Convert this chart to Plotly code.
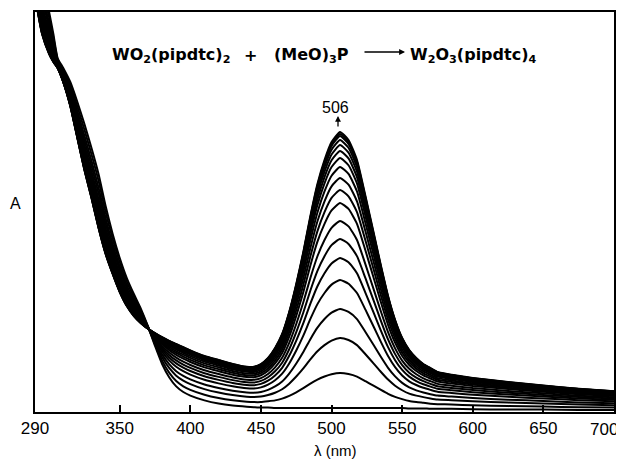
import plotly.graph_objects as go

# Wavelength grid (nm)
wavelength = [290, 295, 300, 303, 306, 310, 315, 320, 325, 330, 335, 340, 345, 350, 355,
              360, 365, 370, 375, 380, 385, 390, 395, 400, 410, 420, 430, 440, 445, 450,
              455, 460, 465, 470, 475, 480, 485, 490, 495, 500, 506, 512, 518, 524, 530,
              535, 540, 545, 550, 555, 560, 565, 570, 575, 585, 600, 625, 650, 675, 700]

# Initial spectrum: WO2(pipdtc)2 (arbitrary absorbance units)
spec_initial = [1.15, 1.08, 1.00, 0.945, 0.885, 0.86, 0.825, 0.775, 0.72, 0.66, 0.595, 0.515,
                0.445, 0.385, 0.335, 0.295, 0.258, 0.214, 0.165, 0.12, 0.087, 0.064, 0.05, 0.041,
                0.029, 0.021, 0.016, 0.013, 0.012, 0.011, 0.011, 0.010, 0.010, 0.010, 0.010,
                0.010, 0.010, 0.010, 0.010, 0.010, 0.010, 0.010, 0.010, 0.010, 0.010, 0.010,
                0.010, 0.010, 0.010, 0.009, 0.009, 0.009, 0.008, 0.008, 0.008, 0.007, 0.006,
                0.006, 0.005, 0.005]

# Final spectrum: W2O3(pipdtc)4
spec_final = [1.04, 0.945, 0.895, 0.875, 0.86, 0.825, 0.765, 0.685, 0.605, 0.535, 0.46, 0.395,
              0.345, 0.30, 0.265, 0.24, 0.222, 0.208, 0.197, 0.187, 0.178, 0.17, 0.162, 0.154,
              0.14, 0.13, 0.12, 0.113, 0.113, 0.12, 0.135, 0.16, 0.195, 0.25, 0.32, 0.40,
              0.49, 0.57, 0.63, 0.675, 0.70, 0.68, 0.63, 0.54, 0.445, 0.365, 0.29, 0.23,
              0.185, 0.155, 0.135, 0.12, 0.11, 0.10, 0.093, 0.085, 0.075, 0.066, 0.058, 0.052]

peak_506 = [0.01, 0.0975, 0.185, 0.2575, 0.33, 0.385, 0.4325, 0.4775, 0.5225, 0.555,
            0.585, 0.6125, 0.635, 0.6525, 0.6675, 0.68, 0.69, 0.695, 0.70]

x_ticks = [290, 350, 400, 450, 500, 550, 600, 650, 700]
x_ticklabels = ["290", "350", "400", "450", "500", "550", "600", "650", ""]
last_label = "700"

i506 = wavelength.index(506)
a0, a1 = spec_initial[i506], spec_final[i506]

fig = go.Figure()
for p in peak_506:
    f = (p - a0) / (a1 - a0)
    ys = [(1 - f) * s0 + f * s1 for s0, s1 in zip(spec_initial, spec_final)]
    fig.add_trace(go.Scatter(x=wavelength, y=ys, mode="lines",
                             line=dict(color="black", width=2, shape="spline", smoothing=0.5),
                             showlegend=False, hoverinfo="skip"))

# The page body adds an 8 px margin, so the figure is laid out 8 px smaller/shifted.
OFF = 8
W, H = 624 - OFF, 459 - OFF
# desired plot box in window pixels: left 35, right 614, top 12, bottom 412
L, T = 35 - OFF, 12 - OFF
R = W - (614 - OFF)
B = H - (412 - OFF)
pw, ph = W - L - R, H - T - B


def px(x):
    return (x - OFF - L) / pw


def py(y):
    return (H - B - (y - OFF)) / ph


font_b = dict(family="DejaVu Sans", size=16, color="black")
ann = []
ty = py(55)
ann.append(dict(x=px(110), y=ty, xref="paper", yref="paper", xanchor="left", yanchor="middle",
                text="<b>WO<sub>2</sub>(pipdtc)<sub>2</sub></b>", showarrow=False, font=font_b))
ann.append(dict(x=px(250), y=ty, xref="paper", yref="paper", xanchor="center", yanchor="middle",
                text="<b>+</b>", showarrow=False, font=font_b))
ann.append(dict(x=px(272), y=ty, xref="paper", yref="paper", xanchor="left", yanchor="middle",
                text="<b>(MeO)<sub>3</sub>P</b>", showarrow=False, font=font_b))
ann.append(dict(x=px(408), y=ty, xref="paper", yref="paper", xanchor="left", yanchor="middle",
                text="<b>W<sub>2</sub>O<sub>3</sub>(pipdtc)<sub>4</sub></b>", showarrow=False, font=font_b))
# reaction arrow
ann.append(dict(x=px(405), y=py(52), xref="paper", yref="paper", text="", showarrow=True,
                ax=-42, ay=0, arrowhead=2, arrowsize=0.9, arrowwidth=1.3, arrowcolor="black"))
# 506 label and arrow
ann.append(dict(x=px(335), y=py(107), xref="paper", yref="paper", xanchor="center", yanchor="middle",
                text="506", showarrow=False,
                font=dict(family="Liberation Sans", size=16, color="black")))
ann.append(dict(x=px(338), y=py(116), xref="paper", yref="paper", text="", showarrow=True,
                ax=0, ay=12, arrowhead=2, arrowsize=0.9, arrowwidth=1.3, arrowcolor="black"))
# axis labels
ann.append(dict(x=px(15), y=py(203), xref="paper", yref="paper", xanchor="center", yanchor="middle",
                text="A", showarrow=False, font=dict(family="Liberation Sans", size=16, color="black")))
ann.append(dict(x=px(335), y=py(450), xref="paper", yref="paper", xanchor="center", yanchor="middle",
                text="λ (nm)", showarrow=False, font=dict(family="Liberation Sans", size=15, color="black")))
# last tick label, shifted inside the page as in the reference
ann.append(dict(x=px(604), y=py(429), xref="paper", yref="paper", xanchor="center", yanchor="middle",
                text=last_label, showarrow=False, font=dict(family="Liberation Sans", size=17, color="black")))

fig.update_layout(
    width=W, height=H,
    margin=dict(l=L, r=R, t=T, b=B),
    paper_bgcolor="white", plot_bgcolor="white",
    annotations=ann,
    xaxis=dict(range=[290, 700], tickvals=x_ticks, ticktext=x_ticklabels,
               ticks="inside", ticklen=7, tickwidth=1.5, tickcolor="black",
               showline=True, linecolor="black", linewidth=1.8, mirror=True,
               showgrid=False, zeroline=False, automargin=False,
               tickfont=dict(family="Liberation Sans", size=17, color="black")),
    yaxis=dict(range=[0, 1], showticklabels=False, ticks="",
               showline=True, linecolor="black", linewidth=1.8, mirror=True,
               showgrid=False, zeroline=False, automargin=False),
)

fig.write_html("out.html")
